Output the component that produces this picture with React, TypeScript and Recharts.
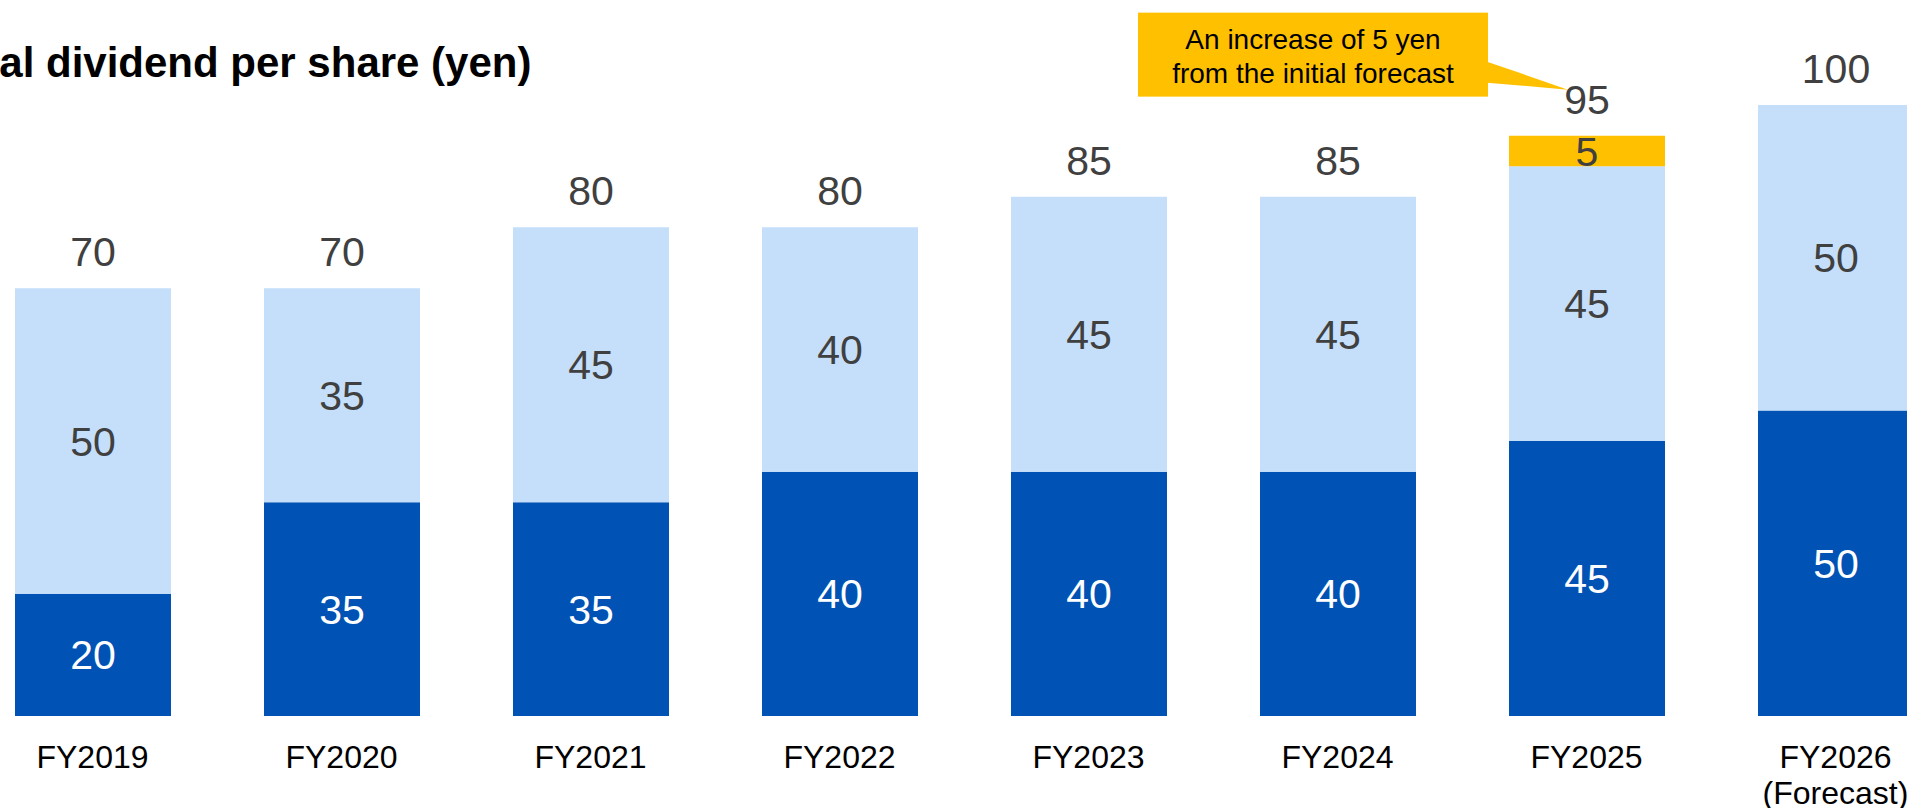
import { Bar, BarChart, LabelList, XAxis, YAxis } from 'recharts'

const categories = ['FY2019', 'FY2020', 'FY2021', 'FY2022', 'FY2023', 'FY2024', 'FY2025', 'FY2026\n(Forecast)']
const interim = [20, 35, 35, 40, 40, 40, 45, 50]
const yearEnd = [50, 35, 45, 40, 45, 45, 45, 50]
const increase = [0, 0, 0, 0, 0, 0, 5, 0]
const calloutLines = ['An increase of 5 yen', 'from the initial forecast']
const title = 'Annual dividend per share (yen)'

const FONT = 'Arial, "Liberation Sans", sans-serif'
const DARK = '#0052B4'
const LIGHT = '#C5DFFB'
const GOLD = '#FFC000'
const GREY = '#404040'

const data = categories.map((name, i) => ({
  name,
  interim: interim[i],
  yearEnd: yearEnd[i],
  increase: increase[i],
  total: interim[i] + yearEnd[i] + increase[i],
}))

function CategoryTick(props: any) {
  const { x, y, payload } = props
  const lines = String(payload.value).split('\n')
  return (
    <text x={x} y={y} textAnchor="middle" fill="#000" fontSize={32} fontFamily={FONT}>
      {lines.map((line, i) => (
        <tspan key={i} x={x} dy={i === 0 ? 52 : 36}>
          {line}
        </tspan>
      ))}
    </text>
  )
}

// stack total above each column; the light segment's own height gives the px-per-yen scale
function TotalLabel(props: any) {
  const box = props.viewBox ?? props
  const x = Number(box.x)
  const y = Number(box.y)
  const w = Number(box.width)
  const h = Number(box.height)
  const row = data[props.index]
  if (!row || Number.isNaN(x)) return null
  const extra = row.yearEnd ? (row.increase * Math.abs(h)) / row.yearEnd : 0
  return (
    <text x={x + w / 2} y={y - extra - 22} textAnchor="middle" fill={GREY} fontSize={41} fontFamily={FONT}>
      {row.total}
    </text>
  )
}

// increase value inside the gold segment, plus the callout box pointing at the total
function IncreaseLabel(props: any) {
  const box = props.viewBox ?? props
  const x = Number(box.x)
  const y = Number(box.y)
  const w = Number(box.width)
  const h = Number(box.height)
  if (!props.value || Number.isNaN(x)) return null
  const cx = x + w / 2
  return (
    <g fontFamily={FONT}>
      <text x={cx} y={y + h / 2 + 15} textAnchor="middle" fill={GREY} fontSize={41}>
        {props.value}
      </text>
      <rect x={cx - 449} y={y - 123} width={350} height={84} fill={GOLD} />
      <polygon points={`${cx - 100},${y - 74} ${cx - 19},${y - 46} ${cx - 100},${y - 53}`} fill={GOLD} />
      {calloutLines.map((line, i) => (
        <text key={i} x={cx - 274} y={y - 87 + i * 34} textAnchor="middle" fill="#000" fontSize={28}>
          {line}
        </text>
      ))}
    </g>
  )
}

export default function App() {
  return (
    <div style={{ position: 'fixed', left: 0, top: 0, width: 1907, height: 808, overflow: 'hidden', background: '#fff' }}>
      <div style={{ position: 'absolute', left: -32, top: 0 }}>
        <BarChart width={1992} height={808} data={data} margin={{ top: 44, right: 0, bottom: 0, left: 0 }}>
          <XAxis
            dataKey="name"
            axisLine={false}
            tickLine={false}
            tickSize={0}
            tickMargin={0}
            height={92}
            interval={0}
            tick={<CategoryTick />}
          />
          <YAxis hide domain={[0, 110]} />
          <Bar dataKey="interim" stackId="a" fill={DARK} barSize={156} isAnimationActive={false}>
            <LabelList dataKey="interim" position="center" fill="#fff" fontSize={41} fontFamily={FONT} />
          </Bar>
          <Bar dataKey="yearEnd" stackId="a" fill={LIGHT} barSize={156} isAnimationActive={false}>
            <LabelList dataKey="yearEnd" position="center" fill={GREY} fontSize={41} fontFamily={FONT} />
            <LabelList dataKey="total" content={<TotalLabel />} />
          </Bar>
          <Bar dataKey="increase" stackId="a" fill={GOLD} barSize={156} isAnimationActive={false}>
            <LabelList dataKey="increase" content={<IncreaseLabel />} />
          </Bar>
        </BarChart>
      </div>
      <svg width={1907} height={808} style={{ position: 'absolute', left: 0, top: 0, pointerEvents: 'none' }}>
        <text x={-108} y={77} fontSize={42} fontWeight="bold" fontFamily={FONT} fill="#000">
          {title}
        </text>
      </svg>
    </div>
  )
}
